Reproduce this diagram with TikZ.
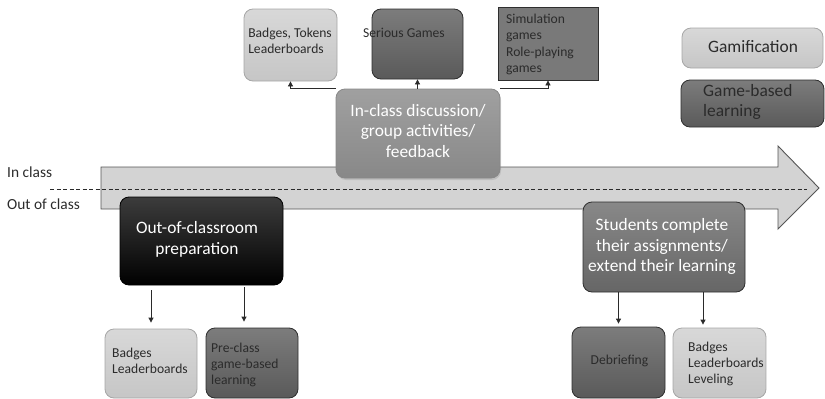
\documentclass[tikz,border=0pt]{standalone}
\usepackage{fontspec}
\setmainfont{Carlito}
\usetikzlibrary{arrows.meta,shadows,calc}
\definecolor{ltop}{HTML}{D8D8D8}
\definecolor{lbot}{HTML}{C6C6C6}
\definecolor{lborder}{HTML}{A6A6A6}
\definecolor{dtop}{HTML}{7C7C7C}
\definecolor{dbot}{HTML}{5A5A5A}
\definecolor{dborder}{HTML}{2E2E2E}
\definecolor{ctop}{HTML}{A0A0A0}
\definecolor{cbot}{HTML}{888888}
\definecolor{otop}{HTML}{3C3C3C}
\definecolor{obot}{HTML}{000000}
\definecolor{stop}{HTML}{888888}
\definecolor{sbot}{HTML}{666666}
\definecolor{arrowfill}{HTML}{D3D3D3}
\definecolor{arrowline}{HTML}{555555}
\definecolor{txtdark}{HTML}{2B2B2B}
\definecolor{conncol}{HTML}{2A2A2A}
\tikzset{
  box/.style={rectangle, rounded corners=9pt, inner sep=0pt, line width=0.8pt},
  lightbox/.style={box, draw=lborder, top color=ltop, bottom color=lbot},
  darkbox/.style={box, draw=dborder, top color=dtop, bottom color=dbot},
  smalltxt/.style={inner sep=0pt, text=txtdark, align=left, font=\fontsize{13.6}{16.2}\selectfont},
  bigtxt/.style={inner sep=0pt, text=white, align=center, font=\fontsize{17.4}{20.8}\selectfont},
  legtxt/.style={inner sep=0pt, text=txtdark, align=left, font=\fontsize{17.4}{20.8}\selectfont},
  sidetxt/.style={inner sep=0pt, text=txtdark, font=\fontsize{15.4}{18}\selectfont},
  conn/.style={draw=conncol, line width=0.8pt, -{Triangle[length=5pt,width=5pt]}},
  bigarrow/.style={draw=arrowline, fill=arrowfill, line width=0.9pt},
}
\begin{document}
\begin{tikzpicture}[x=1pt,y=-1pt]
\useasboundingbox (0,0) rectangle (825,399);
% big timeline arrow
\draw[bigarrow] (101,167) -- (778,167) -- (778,146) -- (819,188) -- (778,229) -- (778,209) -- (101,209) -- cycle;
\draw[draw=conncol, line width=0.9pt, dash pattern=on 4pt off 2.5pt] (50,189) -- (807,189);
\node[sidetxt, anchor=base west] (inclass) at (7,177) {In class};
\node[sidetxt, anchor=base west] (outclass) at (7,209) {Out of class};

% top row
\node[lightbox, minimum width=93pt, minimum height=72pt] (g1) at (290.5,45) {};
\node[smalltxt] (g1t) at (290,41) {Badges, Tokens\\Leaderboards};
\node[darkbox, minimum width=91pt, minimum height=70pt] (g2) at (417.5,44) {};
\node[smalltxt, anchor=base] (g2t) at (404,37) {Serious Games};
\node[box, rounded corners=0pt, draw=dborder, fill=dtop!90!dbot, minimum width=100pt, minimum height=73pt] (g3) at (548,43.5) {};
\node[smalltxt, anchor=west] (g3t) at (506,44.5) {Simulation\\games\\Role-playing\\games};

% legend
\node[lightbox, minimum width=141pt, minimum height=40pt] (leg1) at (752.5,48) {};
\node[legtxt, anchor=base] (leg1t) at (753,52) {Gamification};
\node[darkbox, minimum width=143pt, minimum height=47pt] (leg2) at (752.5,103.5) {};
\node[legtxt, anchor=west] (leg2t) at (703,102) {Game-based\\learning};

% central in-class box
\node[box, draw=cbot, top color=ctop, bottom color=cbot, drop shadow={opacity=0.25, shadow xshift=1pt, shadow yshift=-2pt}, minimum width=164pt, minimum height=89pt] (cbox) at (418,133.5) {};
\node[bigtxt] (cboxt) at (418,131) {In-class discussion/\\group activities/\\feedback};

% out of classroom box
\node[box, draw=black, top color=otop, bottom color=obot, minimum width=163pt, minimum height=88pt] (ob) at (201.5,241) {};
\node[bigtxt] (obt) at (197,239) {Out-of-classroom\\preparation};

% students box
\node[box, draw=dborder, top color=stop, bottom color=sbot, minimum width=162pt, minimum height=90pt] (sb) at (664,247) {};
\node[bigtxt] (sbt) at (662,246.5) {Students complete\\their assignments/\\extend their learning};

% bottom boxes
\node[lightbox, minimum width=92pt, minimum height=69pt] (b1) at (151,363.5) {};
\node[smalltxt] (b1t) at (150,361) {Badges\\Leaderboards};
\node[darkbox, minimum width=92pt, minimum height=70pt] (pc) at (252,363) {};
\node[smalltxt, anchor=west] (pct) at (211,365) {Pre-class\\game-based\\learning};
\node[darkbox, minimum width=93pt, minimum height=71pt] (db) at (618.5,362.5) {};
\node[smalltxt, anchor=base] (dbt) at (619.5,364) {Debriefing};
\node[lightbox, minimum width=93pt, minimum height=70pt] (bl) at (719.5,363) {};
\node[smalltxt, anchor=west] (blt) at (688,364) {Badges\\Leaderboards\\Leveling};

% connectors
\draw[conn] (cbox.north west) -| (g1.south);
\draw[conn] (cbox.north east) -| (g3.south);
\draw[conn] (g2.south |- cbox.north) -- (g2.south);
\coordinate (pcin) at ([xshift=-8pt]pc.north);
\coordinate (blin) at ([xshift=-16.5pt]bl.north);
\draw[conn, shorten <=5pt, shorten >=6pt] (b1.north |- ob.south) -- (b1.north);
\draw[conn, shorten <=2pt, shorten >=6pt] (pcin |- ob.south) -- (pcin);
\draw[conn, shorten >=3pt] (db.north |- sb.south) -- (db.north);
\draw[conn, shorten >=3pt] (blin |- sb.south) -- (blin);
\end{tikzpicture}
\end{document}
